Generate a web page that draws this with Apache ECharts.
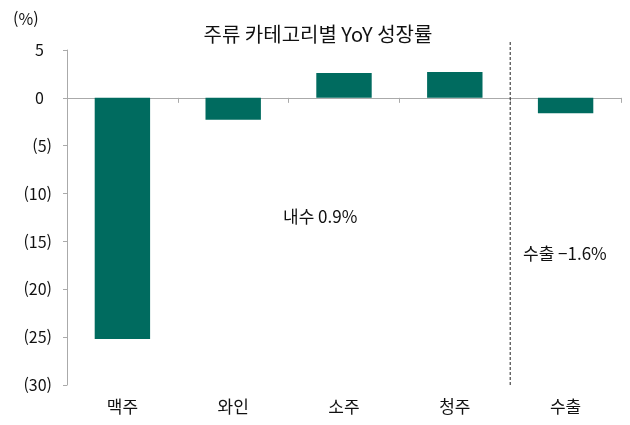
<!DOCTYPE html>
<html lang="ko">
<head>
  <meta charset="UTF-8">
  <title>주류 카테고리별 YoY 성장률</title>
  <style>
    body { margin: 0; background: #fff; }
    #chart { width: 630px; height: 425px; }
  </style>
</head>
<body>
  <div id="chart"></div>
  <script src="https://cdn.jsdelivr.net/npm/echarts@6/dist/echarts.min.js"></script>
  <script>
    // 데이터
    const categories = ['맥주', '와인', '소주', '청주', '수출']
    const growth = [-25.2, -2.3, 2.6, 2.7, -1.6]
    const yTicks = { min: -30, max: 5, step: 5 }
    // 내수 / 수출 구분선 (카테고리 경계 인덱스)
    const dividerX = 4
    const dividerY = [-30, 6]
    const notes = ['내수 0.9%', '수출 −1.6%']

    const font = '"Noto Sans CJK KR", "Noto Sans", sans-serif'
    const chart = echarts.init(document.getElementById('chart'))

    const option = {
      animation: false,
      textStyle: { fontFamily: font },
      title: {
        text: '주류 카테고리별 YoY 성장률',
        left: 313, top: 19, textAlign: 'center',
        textStyle: { fontSize: 20, fontWeight: 'normal', color: '#111', fontFamily: font }
      },
      grid: { left: 67, right: 9, top: 50, bottom: 40 },
      xAxis: [
        {
          type: 'category',
          data: categories,
          axisLine: { onZero: true, lineStyle: { color: '#aaa' } },
          axisTick: { show: true, lineStyle: { color: '#aaa' } },
          axisLabel: { show: false }
        },
        {
          // 아래쪽 라벨용 축
          type: 'category',
          data: categories,
          position: 'bottom',
          axisLine: { show: false },
          axisTick: { show: false },
          axisLabel: { color: '#111', fontSize: 17, margin: 13, fontFamily: font }
        },
        {
          // 구분선용 숨은 값 축
          type: 'value', min: 0, max: categories.length, show: false
        }
      ],
      yAxis: {
        type: 'value',
        min: yTicks.min, max: yTicks.max, interval: yTicks.step,
        axisLine: { show: true, lineStyle: { color: '#aaa' } },
        axisTick: { show: true, length: 4, lineStyle: { color: '#aaa' } },
        splitLine: { show: false },
        axisLabel: {
          color: '#111', fontSize: 16, margin: 15, fontFamily: font,
          // 양수는 괄호 폭만큼 띄워서 정렬
          formatter: v => v < 0 ? '(' + Math.abs(v) + ')' : v + '\u2002'
        }
      },
      series: [
        {
          type: 'bar',
          xAxisIndex: 0,
          data: growth,
          barWidth: '50%',
          itemStyle: { color: '#006b5f' }
        },
        {
          type: 'line',
          xAxisIndex: 2,
          data: dividerY.map(y => [dividerX, y]),
          symbol: 'none',
          clip: false,
          lineStyle: { color: '#222', width: 1, type: [3, 2] }
        }
      ],
      graphic: [
        { type: 'text', left: 13, top: 11, style: { text: '(%)', font: '16px ' + font, fill: '#111' } },
        { type: 'text', left: 283, top: 208, style: { text: notes[0], font: '17px ' + font, fill: '#111' } },
        { type: 'text', left: 523, top: 245, style: { text: notes[1], font: '17px ' + font, fill: '#111' } }
      ]
    }

    chart.setOption(option)
  </script>
</body>
</html>
